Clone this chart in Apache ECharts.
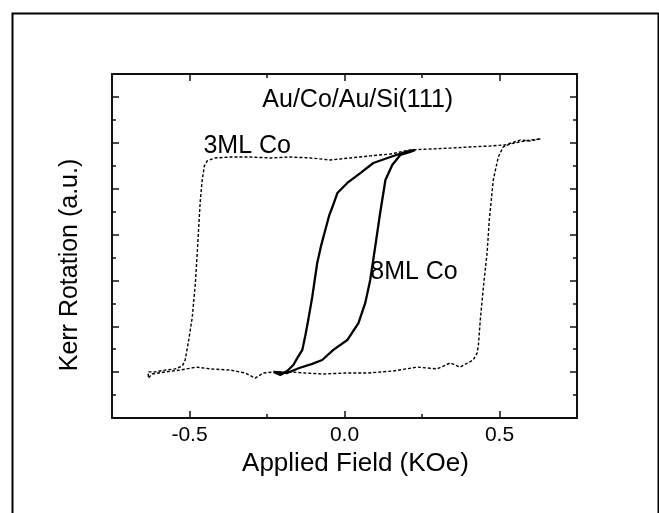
<!DOCTYPE html>
<html>
<head>
<meta charset="utf-8">
<script src="https://cdn.jsdelivr.net/npm/echarts@6/dist/echarts.min.js"></script>
<style>
html,body{margin:0;padding:0;background:#fff;}
#chart{width:659px;height:513px;}
</style>
</head>
<body>
<div id="chart"></div>
<script>
// 3ML Co loop (dotted): applied field (KOe) and Kerr rotation (a.u.)
const field3ML = [0.632,0.599,0.567,0.519,0.470,0.406,0.341,0.277,0.212,0.148,0.083,0.019,-0.046,-0.110,-0.175,-0.239,-0.304,-0.368,-0.417,-0.443,-0.452,-0.459,-0.465,-0.469,-0.475,-0.481,-0.491,-0.504,-0.514,-0.523,-0.546,-0.578,-0.611,-0.633,-0.633,-0.620,-0.578,-0.530,-0.478,-0.433,-0.368,-0.320,-0.288,-0.262,-0.223,-0.175,-0.127,-0.068,0.003,0.073,0.157,0.235,0.299,0.341,0.373,0.415,0.428,0.432,0.438,0.448,0.460,0.467,0.480,0.496,0.512,0.535,0.567,0.599,0.632];
const kerr3ML  = [12.17,12.08,12.12,11.91,11.86,11.82,11.77,11.73,11.69,11.51,11.43,11.34,11.25,11.34,11.38,11.34,11.38,11.38,11.34,11.21,10.99,10.38,9.51,8.63,7.20,5.89,4.40,3.27,2.53,2.27,2.14,2.09,2.01,2.01,1.74,1.92,2.01,2.09,2.22,2.14,2.09,1.96,1.74,1.96,2.01,2.01,1.96,1.92,1.96,1.96,2.05,2.22,2.14,2.40,2.22,2.53,2.83,3.18,4.27,5.71,7.20,8.63,10.38,11.38,11.82,11.95,12.04,12.12,12.17];

// 8ML Co loop (solid)
const field8ML = [-0.229,-0.207,-0.185,-0.165,-0.152,-0.136,-0.126,-0.117,-0.104,-0.088,-0.075,-0.062,-0.049,-0.039,-0.023,0.009,0.051,0.093,0.148,0.196,0.228,0.212,0.180,0.154,0.132,0.115,0.099,0.083,0.067,0.045,0.009,-0.036,-0.072,-0.104,-0.146,-0.185,-0.229];
const kerr8ML  = [2.01,1.88,2.05,2.31,2.62,2.97,3.62,4.27,5.28,6.76,7.54,8.20,8.85,9.20,9.81,10.25,10.68,11.12,11.38,11.60,11.69,11.60,11.47,11.03,10.38,8.94,7.46,6.02,5.02,4.14,3.40,2.97,2.53,2.36,2.18,1.96,2.01];

// Axis ticks and labels
const xMajorTicks = [-0.5, 0.0, 0.5];
const xMinorTicks = [-0.25, 0.25];
const yMajorTicks = [2, 4, 6, 8, 10, 12, 14];
const yMinorTicks = [1, 3, 5, 7, 9, 11, 13];

const xTitle = 'Applied Field (KOe)';
const yTitle = 'Kerr Rotation (a.u.)';
const sampleLabel = 'Au/Co/Au/Si(111)';
const label3ML = '3ML Co';
const label8ML = '8ML Co';

const FONT = '"Liberation Sans", Arial, Helvetica, sans-serif';
const pairs = (xs, ys) => xs.map((x, i) => [x, ys[i]]);

const chart = echarts.init(document.getElementById('chart'), null, {renderer: 'canvas'});

function xAx(position, ticks, len, showLine, showLabel, name) {
  return {
    type: 'value', position: position, min: -0.75, max: 0.75, gridIndex: 0,
    axisLine: {show: showLine, onZero: false, lineStyle: {color: '#111', width: 2}},
    axisTick: {show: true, inside: true, length: len, customValues: ticks, lineStyle: {color: '#111', width: 1.5}},
    axisLabel: {show: showLabel, customValues: xMajorTicks, formatter: v => v.toFixed(1), color: '#000', fontSize: 21, fontFamily: FONT, margin: 7},
    splitLine: {show: false},
    name: name || '', nameLocation: 'middle', nameGap: 21,
    nameTextStyle: {color: '#000', fontSize: 26, fontFamily: FONT, padding: [0, 0, 0, 22]}
  };
}
function yAx(position, ticks, len, showLine, name) {
  return {
    type: 'value', position: position, min: 0, max: 15, gridIndex: 0,
    axisLine: {show: showLine, onZero: false, lineStyle: {color: '#111', width: 2}},
    axisTick: {show: true, inside: true, length: len, customValues: ticks, lineStyle: {color: '#111', width: 1.5}},
    axisLabel: {show: false},
    splitLine: {show: false},
    name: name || '', nameLocation: 'middle', nameGap: 29, nameRotate: 90,
    nameTextStyle: {color: '#000', fontSize: 25, fontFamily: FONT, padding: [0, 38, 0, 0]}
  };
}

const option = {
  backgroundColor: '#fff',
  animation: false,
  grid: {left: 112, right: 82, top: 74, bottom: 95, containLabel: false},
  xAxis: [
    xAx('bottom', xMajorTicks, 7, true, true, xTitle),
    xAx('bottom', xMinorTicks, 4, false, false),
    xAx('top', xMajorTicks, 7, true, false),
    xAx('top', xMinorTicks, 4, false, false)
  ],
  yAxis: [
    yAx('left', yMajorTicks, 7, true, yTitle),
    yAx('left', yMinorTicks, 4, false),
    yAx('right', yMajorTicks, 7, true),
    yAx('right', yMinorTicks, 4, false)
  ],
  graphic: [
    {type: 'rect', left: 10, top: 11, shape: {width: 646, height: 520},
     style: {fill: 'none', stroke: '#000', lineWidth: 2}, silent: true}
  ],
  series: [
    {
      name: label3ML, type: 'line', xAxisIndex: 0, yAxisIndex: 0,
      data: pairs(field3ML, kerr3ML), showSymbol: false, symbol: 'none',
      lineStyle: {color: '#000', width: 1.4, type: [3, 2]},
      markPoint: {
        symbol: 'rect', symbolSize: 0,
        data: [
          {coord: [-0.455, 11.85], label: {show: true, formatter: label3ML, position: 'right', distance: 0, color: '#000', fontSize: 25, fontFamily: FONT}},
          {coord: [-0.265, 13.85], label: {show: true, formatter: sampleLabel, position: 'right', distance: 0, color: '#000', fontSize: 25, fontFamily: FONT}}
        ]
      }
    },
    {
      name: label8ML, type: 'line', xAxisIndex: 0, yAxisIndex: 0,
      data: pairs(field8ML, kerr8ML), showSymbol: false, symbol: 'none',
      lineStyle: {color: '#000', width: 2.3},
      markPoint: {
        symbol: 'rect', symbolSize: 0,
        data: [
          {coord: [0.083, 6.35], label: {show: true, formatter: label8ML, position: 'right', distance: 0, color: '#000', fontSize: 25, fontFamily: FONT}}
        ]
      }
    }
  ]
};
chart.setOption(option);
</script>
</body>
</html>
